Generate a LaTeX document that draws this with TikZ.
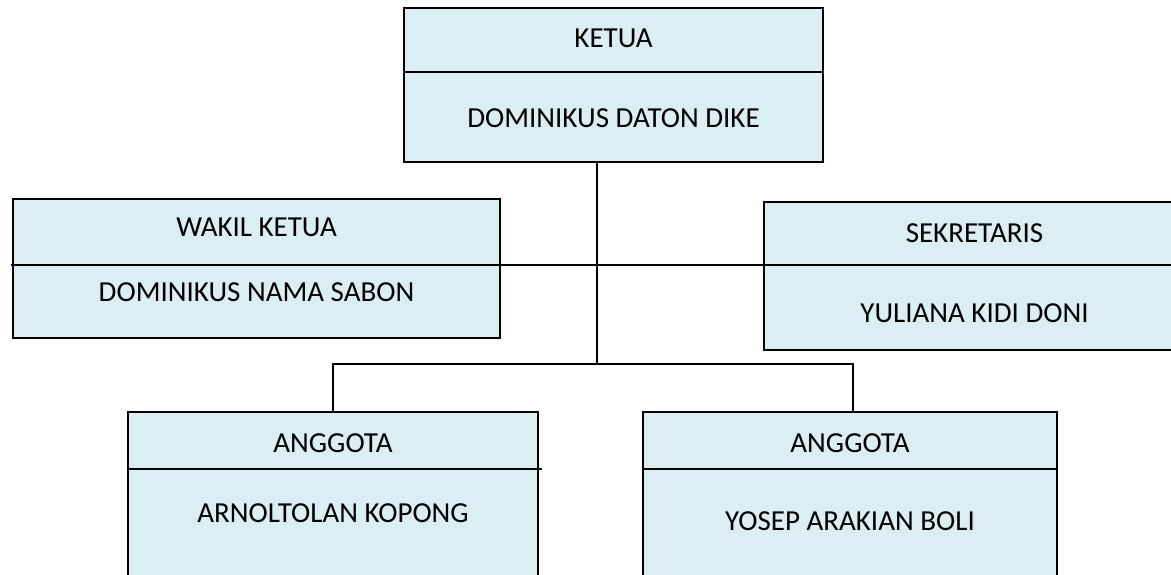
\documentclass[tikz,border=0pt]{standalone}
\usepackage{fontspec}
\setmainfont{Carlito}
\begin{document}
\begin{tikzpicture}[x=1pt,y=-1pt,
  box/.style={draw=black, line width=2pt, fill=boxblue, inner sep=0pt},
  lbl/.style={font=\fontsize{29}{34}\selectfont, inner sep=0pt, anchor=center},
  conn/.style={draw=black, line width=2pt}]
\definecolor{boxblue}{HTML}{DAEEF3}
\useasboundingbox (0,0) rectangle (1171,574);
% boxes
\node[box, minimum width=419pt, minimum height=154pt] (ketua) at (613.5,85) {};
\node[box, minimum width=487pt, minimum height=139pt] (wakil) at (256.5,268.5) {};
\node[box, minimum width=421pt, minimum height=148pt] (sek) at (974.5,276) {};
\node[box, minimum width=410pt, minimum height=188pt] (a1) at (333,506) {};
\node[box, minimum width=414pt, minimum height=188pt] (a2) at (850,506) {};
% dividers
\draw[conn] (ketua.west |- 0,72) -- (ketua.east |- 0,72);
\coordinate (hl) at (11,265);
\coordinate (hr) at (1171,265);
\draw[conn] (hl) -- (hr);
\draw[conn] (a1.west |- 0,469) -- ([xshift=3pt]a1.east |- 0,469);
\draw[conn] (a2.west |- 0,469) -- (a2.east |- 0,469);
% labels
\node[lbl] (t1) at (613.5,38) {KETUA};
\node[lbl] (n1) at (613.5,118) {DOMINIKUS DATON DIKE};
\node[lbl] (t2) at (256.5,227) {WAKIL KETUA};
\node[lbl] (n2) at (256.5,292) {DOMINIKUS NAMA SABON};
\node[lbl] (t3) at (974.5,233) {SEKRETARIS};
\node[lbl] (n3) at (974.5,313) {YULIANA KIDI DONI};
\node[lbl] (t4) at (333,443) {ANGGOTA};
\node[lbl] (n4) at (333,513) {ARNOLTOLAN KOPONG};
\node[lbl] (t5) at (850,443) {ANGGOTA};
\node[lbl] (n5) at (850,521) {YOSEP ARAKIAN BOLI};
% connectors
\coordinate (j1) at (597,364);
\draw[conn] (ketua.south -| j1) -- (j1);
\draw[conn] (a1.north) |- (j1) -| ([xshift=3pt]a2.north);
\end{tikzpicture}
\end{document}
